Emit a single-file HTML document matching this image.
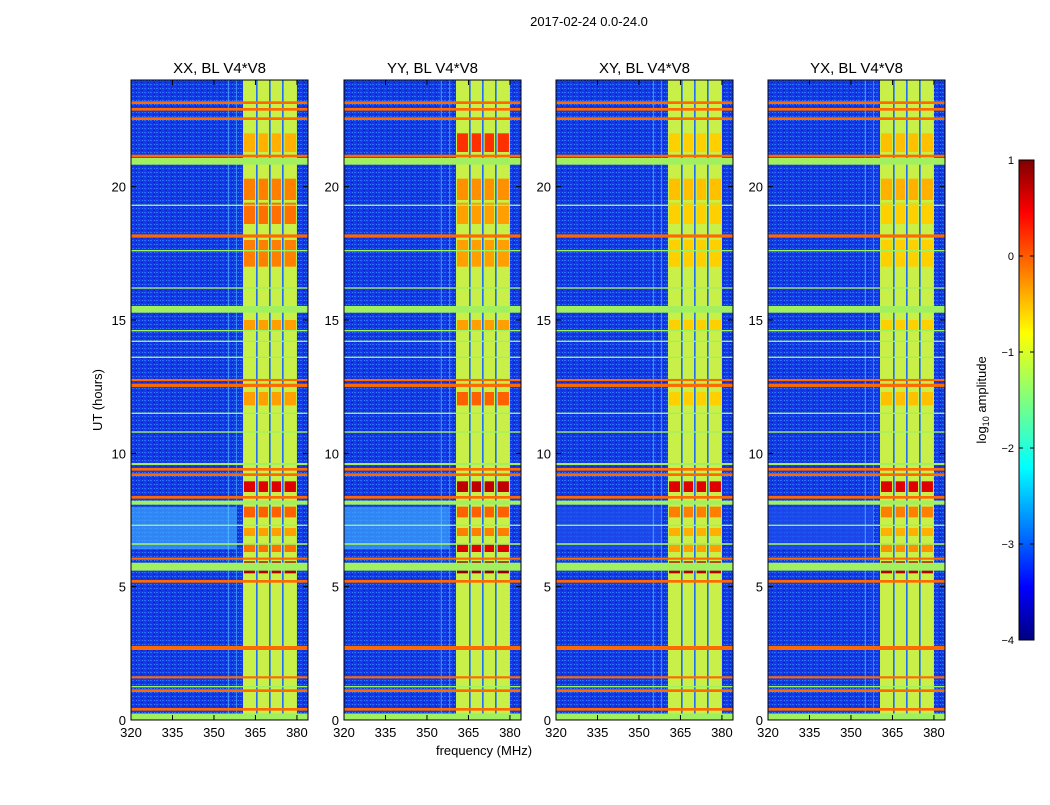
<!DOCTYPE html>
<html><head><meta charset="utf-8"><style>
body{margin:0;background:#fff;width:1050px;height:800px;overflow:hidden;font-family:"Liberation Sans",sans-serif}
svg text{font-family:"Liberation Sans",sans-serif}
</style></head><body>
<svg id="fig" width="1050" height="800" xmlns="http://www.w3.org/2000/svg">
<defs>
<linearGradient id="jet" x1="0" y1="1" x2="0" y2="0">
<stop offset="0" stop-color="#00007f"/><stop offset="0.11" stop-color="#0000ff"/><stop offset="0.36" stop-color="#00ffff"/>
<stop offset="0.5" stop-color="#7fff7f"/><stop offset="0.64" stop-color="#ffff00"/><stop offset="0.89" stop-color="#ff0000"/><stop offset="1" stop-color="#7f0000"/>
</linearGradient>
<pattern id="noise" width="6" height="4" patternUnits="userSpaceOnUse">
<rect width="6" height="4" fill="#1638e8"/><rect x="0" y="0" width="2" height="1" fill="#2a6cf8"/><rect x="3" y="2" width="2" height="1" fill="#0c20c8"/><rect x="4" y="0" width="1" height="1" fill="#3080ff"/>
</pattern>
</defs>
<text x="589" y="26" font-size="13" text-anchor="middle">2017-02-24 0.0-24.0</text>
<g id="panels"></g>
<g>
<rect x="1019" y="160" width="15" height="480" fill="url(#jet)" stroke="#000" stroke-width="1"/>
<g id="cbticks"></g>
<text transform="translate(986,400) rotate(-90)" font-size="13" text-anchor="middle">log<tspan font-size="9" dy="3">10</tspan><tspan dy="-3"> amplitude</tspan></text>
</g>
<text transform="translate(102,400) rotate(-90)" font-size="13" text-anchor="middle">UT (hours)</text>
<text x="484" y="755" font-size="13" text-anchor="middle">frequency (MHz)</text>
</svg>
<script>
const panelTitles=["XX, BL V4*V8","YY, BL V4*V8","XY, BL V4*V8","YX, BL V4*V8"];
const panelLefts=[131,344,556,768];
const xTicks=[320,335,350,365,380];
const yTicks=[0,5,10,15,20];
const cbTicks=[1,0,-1,-2,-3,-4];
const cbLabels=["1","0","\u22121","\u22122","\u22123","\u22124"];
// subband columns [startMHz,endMHz]
const bandStart=[360.5,365.8,370.5,375.2];
const bandEnd=[365.2,369.9,374.6,380];
// horizontal RFI lines: hour, thickness (hours), colour
const lineHours=[0.12,0.4,1.1,1.25,1.6,2.7,5.2,5.75,6.05,6.6,7.3,8.15,8.35,9.2,9.4,9.6,10.8,11.5,12.55,12.75,13.6,14.2,14.6,15.4,16.2,17.6,18.15,19.3,20.95,21.15,22.55,22.9,23.15];
const lineThick=[0.25,0.1,0.1,0.05,0.08,0.15,0.1,0.3,0.08,0.06,0.05,0.15,0.1,0.1,0.1,0.08,0.05,0.05,0.12,0.08,0.05,0.05,0.05,0.25,0.05,0.05,0.12,0.05,0.25,0.1,0.1,0.1,0.1];
const lineColor=["#a0f060","#ff6a00","#ff6a00","#a0f060","#ff6a00","#ff6a00","#ff6a00","#a0f060","#ff6a00","#a0f060","#a0f060","#a0f060","#ff6a00","#ff6a00","#ff6a00","#a0f060","#a0f060","#a0f060","#ff6a00","#ff6a00","#a0f060","#a0f060","#a0f060","#a0f060","#a0f060","#a0f060","#ff6a00","#a0f060","#a0f060","#ff6a00","#ff6a00","#ff6a00","#ff6a00"];
// in-band bright blocks: start hour, end hour, colour per panel
const blockStart=[5.5,6.3,6.9,7.6,8.55,11.8,14.6,17.0,18.6,19.5,21.3];
const blockEnd=[5.95,6.6,7.2,8.0,8.95,12.3,15.0,18.0,19.4,20.3,22.0];
const blockColorP=[
["#b00000","#ff7000","#ffa000","#ff6000","#e00000","#ffa000","#ffa000","#ff8000","#ff7000","#ff8000","#ffb000"],
["#900000","#e00000","#ff8000","#ff6000","#c00000","#ff6000","#ffa000","#ffa000","#ffa000","#ff9000","#ff3000"],
["#b00000","#ffa000","#ffb000","#ff8000","#e00000","#ffd000","#ffd000","#ffd000","#ffd000","#ffc000","#ffd000"],
["#b00000","#ff9000","#ffb000","#ff8000","#e00000","#ffc000","#ffd000","#ffd000","#ffd000","#ffb000","#ffc000"]];
const NS="http://www.w3.org/2000/svg";
const W=177,H=640,TOP=80;
function mk(tag,at,parent){const e=document.createElementNS(NS,tag);for(const k in at)e.setAttribute(k,at[k]);parent.appendChild(e);return e;}
const root=document.getElementById('panels');
panelLefts.forEach((L,p)=>{
 const xs=f=>L+(f-320)/64*W, ys=h=>TOP+H-h/24*H;
 const g=mk('g',{},root);
 
 
 mk('rect',{x:L,y:TOP,width:W,height:H,fill:'url(#noise)'},g);
 mk('rect',{x:L,y:ys(8),width:xs(358)-L,height:ys(6.4)-ys(8),fill:(p<2?'#40a8ff':'#2050f0'),opacity:0.7},g);
 const b0=bandStart[0],b1=bandEnd[bandEnd.length-1];
 mk('rect',{x:xs(b0),y:TOP,width:xs(b1)-xs(b0),height:H,fill:'#2070f8'},g);
 bandStart.forEach((s,i)=>{
  const e=bandEnd[i];
  mk('rect',{x:xs(s),y:TOP,width:xs(e)-xs(s),height:H,fill:'#c8f048'},g);
  blockStart.forEach((b,j)=>{
   const r=mk('rect',{x:xs(s)+1,y:ys(blockEnd[j]),width:xs(e)-xs(s)-2,height:ys(blockStart[j])-ys(blockEnd[j]),fill:blockColorP[p][j]},g);
   
   
  });
 });
 mk('rect',{x:xs(355),y:TOP,width:1,height:H,fill:'#60e0ff',opacity:0.6},g);
 mk('rect',{x:xs(358),y:TOP,width:1,height:H,fill:'#60e0ff',opacity:0.5},g);
 lineHours.forEach((h,i)=>{
  const t=lineThick[i]/24*H;
  const r=mk('rect',{x:L,y:ys(h)-t/2,width:W,height:Math.max(t,1.2),fill:lineColor[i]},g);
  
  
 });
 mk('rect',{x:L,y:TOP,width:W,height:H,fill:'none',stroke:'#000','stroke-width':1},g);
 const t=mk('text',{x:L+W/2,y:73,'font-size':15,'text-anchor':'middle'},g);t.textContent=panelTitles[p];
 
 
 xTicks.forEach(v=>{const x=xs(v);
  mk('line',{x1:x,x2:x,y1:TOP+H,y2:TOP+H-5,stroke:'#000'},g);mk('line',{x1:x,x2:x,y1:TOP,y2:TOP+5,stroke:'#000'},g);
  const tx=mk('text',{x:x,y:TOP+H+17,'font-size':13,'text-anchor':'middle'},g);tx.textContent=v;
  
  });
 yTicks.forEach(v=>{const y=ys(v);
  mk('line',{x1:L,x2:L+5,y1:y,y2:y,stroke:'#000'},g);mk('line',{x1:L+W,x2:L+W-5,y1:y,y2:y,stroke:'#000'},g);
  const ty=mk('text',{x:L-5,y:y+5,'font-size':13,'text-anchor':'end'},g);ty.textContent=v;
  
  });
});
const cb=document.getElementById('cbticks');
cbTicks.forEach((v,i)=>{const y=160+(1-v)*96;
 mk('line',{x1:1019,x2:1023,y1:y,y2:y,stroke:'#000'},cb);mk('line',{x1:1034,x2:1030,y1:y,y2:y,stroke:'#000'},cb);
 const t=mk('text',{x:1014,y:y+4,'font-size':11,'text-anchor':'end'},cb);t.textContent=cbLabels[i];
 
 });
</script>
</body></html>
